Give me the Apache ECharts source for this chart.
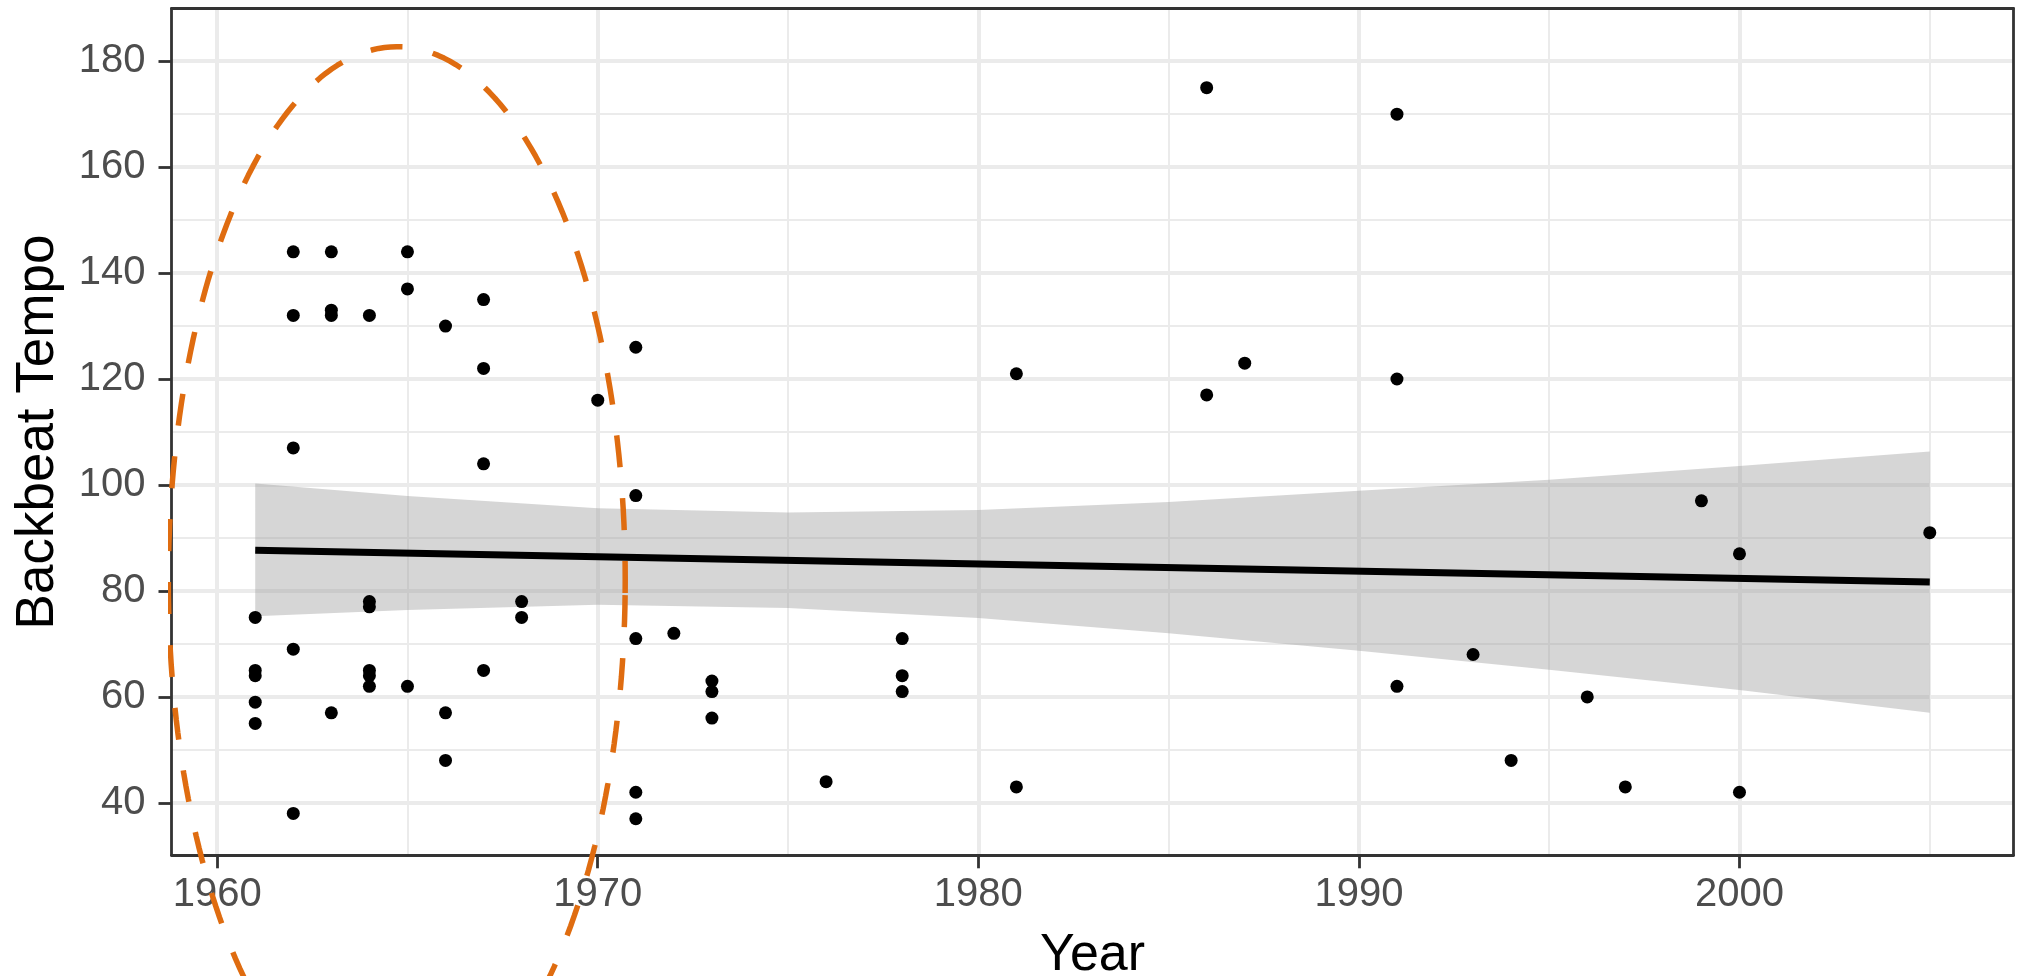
<!DOCTYPE html>
<html lang="en">
<head>
<meta charset="UTF-8">
<title>Backbeat Tempo by Year</title>
<script src="https://cdn.jsdelivr.net/npm/echarts@6/dist/echarts.min.js"></script>
<style>
    html, body { margin: 0; padding: 0; overflow: hidden; background: #fff; }
</style>
</head>
<body>
<div id="main" style="width: 100vw; height: 100vh;"></div>
<script>
// songs: release year and backbeat tempo
var songYears = [
    1961, 1961, 1961, 1961, 1961,
    1962, 1962, 1962, 1962, 1962,
    1963, 1963, 1963, 1963,
    1964, 1964, 1964, 1964, 1964, 1964,
    1965, 1965, 1965,
    1966, 1966, 1966,
    1967, 1967, 1967, 1967,
    1968, 1968,
    1970,
    1971, 1971, 1971, 1971, 1971,
    1972,
    1973, 1973, 1973,
    1976,
    1978, 1978, 1978,
    1981, 1981,
    1986, 1986,
    1987,
    1991, 1991, 1991,
    1993, 1994, 1996, 1997, 1999,
    2000, 2000,
    2005
];
var songTempos = [
    75, 65, 64, 59, 55,
    144, 132, 107, 69, 38,
    144, 133, 132, 57,
    132, 78, 77, 65, 64, 62,
    144, 137, 62,
    130, 57, 48,
    135, 122, 104, 65,
    78, 75,
    116,
    126, 98, 71, 42, 37,
    72,
    63, 61, 56,
    44,
    71, 64, 61,
    121, 43,
    175, 117,
    123,
    170, 120, 62,
    68, 48, 60, 43, 97,
    87, 42,
    91
];

// linear fit and its confidence band
var fitYears = [1961, 2005];
var fitTempos = [87.7, 81.7];
var bandYears = [1961, 1965, 1970, 1975, 1980, 1985, 1990, 1995, 2000, 2005];
var bandUpper = [100.3, 97.9, 95.6, 94.8, 95.3, 96.8, 98.9, 101.0, 103.6, 106.3];
var bandLower = [75.2, 76.4, 77.4, 76.8, 74.9, 72.0, 68.7, 65.1, 61.3, 57.0];

// hand-drawn highlight ellipse (data units)
var ellipseCenter = [1964.72, 82];
var ellipseRadius = [6.0, 100.7];
var ellipseSkew = [0.15, -2.4];

var xTicks = [1960, 1970, 1980, 1990, 2000];
var yTicks = [40, 60, 80, 100, 120, 140, 160, 180];

var font = 'Liberation Sans, Arial, Helvetica, sans-serif';

var myChart = echarts.init(document.getElementById('main'));

var points = songYears.map(function (y, i) { return [y, songTempos[i]]; });
var fitLine = fitYears.map(function (y, i) { return [y, fitTempos[i]]; });

var ellipse = [];
for (var k = 0; k <= 240; k++) {
    var t = k / 240 * Math.PI * 2;
    ellipse.push([
        ellipseCenter[0] + ellipseRadius[0] * Math.cos(t) + ellipseSkew[0] * Math.sin(t),
        ellipseCenter[1] + ellipseRadius[1] * Math.sin(t) + ellipseSkew[1] * Math.cos(t)
    ]);
}

var borderLine = { show: true, onZero: false, lineStyle: { color: '#333333', width: 2.8 } };
var tickStyle = { color: '#333333', width: 2.8 };

var option = {
    animation: false,
    backgroundColor: '#ffffff',
    grid: {
        left: 171.5, right: 9.5, top: 8.7, bottom: 120.7,
        containLabel: false, outerBoundsMode: 'none'
    },
    xAxis: [{
        type: 'value',
        min: 1958.8,
        max: 2007.2,
        splitNumber: 5,
        axisLine: borderLine,
        axisTick: { show: true, length: 13, lineStyle: tickStyle, customValues: xTicks },
        axisLabel: {
            customValues: xTicks,
            formatter: function (v) { return String(v); },
            color: '#4D4D4D', fontSize: 40, fontFamily: font, margin: 20
        },
        splitLine: { show: true, lineStyle: { color: '#EBEBEB', width: 4 } },
        minorTick: { show: false, splitNumber: 2 },
        minorSplitLine: { show: true, lineStyle: { color: '#EBEBEB', width: 2 } },
        name: 'Year',
        nameLocation: 'middle',
        nameGap: 74,
        nameTextStyle: { color: '#000', fontSize: 52, fontFamily: font }
    }, {
        type: 'value', position: 'top', min: 1958.8, max: 2007.2,
        axisLine: borderLine, axisTick: { show: false }, axisLabel: { show: false }, splitLine: { show: false }
    }],
    yAxis: [{
        type: 'value',
        min: 30.1,
        max: 189.9,
        splitNumber: 8,
        axisLine: borderLine,
        axisTick: { show: true, length: 13, lineStyle: tickStyle, customValues: yTicks },
        axisLabel: {
            customValues: yTicks,
            color: '#4D4D4D', fontSize: 40, fontFamily: font, margin: 26
        },
        splitLine: { show: true, lineStyle: { color: '#EBEBEB', width: 4 } },
        minorTick: { show: false, splitNumber: 2 },
        minorSplitLine: { show: true, lineStyle: { color: '#EBEBEB', width: 2 } },
        name: 'Backbeat Tempo',
        nameLocation: 'middle',
        nameGap: 107,
        nameTextStyle: { color: '#000', fontSize: 53, fontFamily: font }
    }, {
        type: 'value', position: 'right', min: 30.1, max: 189.9,
        axisLine: borderLine, axisTick: { show: false }, axisLabel: { show: false }, splitLine: { show: false }
    }],
    series: [{
        name: 'songs',
        type: 'scatter',
        data: points,
        symbolSize: 13,
        itemStyle: { color: '#000000', opacity: 1 }
    }, {
        name: 'band',
        type: 'custom',
        data: [[bandYears[0], bandLower[0]]],
        renderItem: function (params, api) {
            var pts = [];
            for (var i = 0; i < bandYears.length; i++) {
                pts.push(api.coord([bandYears[i], bandUpper[i]]));
            }
            for (var j = bandYears.length - 1; j >= 0; j--) {
                pts.push(api.coord([bandYears[j], bandLower[j]]));
            }
            return {
                type: 'polygon',
                shape: { points: pts },
                style: { fill: 'rgba(153,153,153,0.4)', stroke: null }
            };
        }
    }, {
        name: 'fit',
        type: 'line',
        data: fitLine,
        symbol: 'none',
        lineStyle: { color: '#000000', width: 7 }
    }, {
        name: 'highlight',
        type: 'line',
        data: ellipse,
        symbol: 'none',
        clip: false,
        lineStyle: { color: '#DF6C10', width: 5.5, type: [32, 31] }
    }]
};

myChart.setOption(option);
</script>
</body>
</html>
